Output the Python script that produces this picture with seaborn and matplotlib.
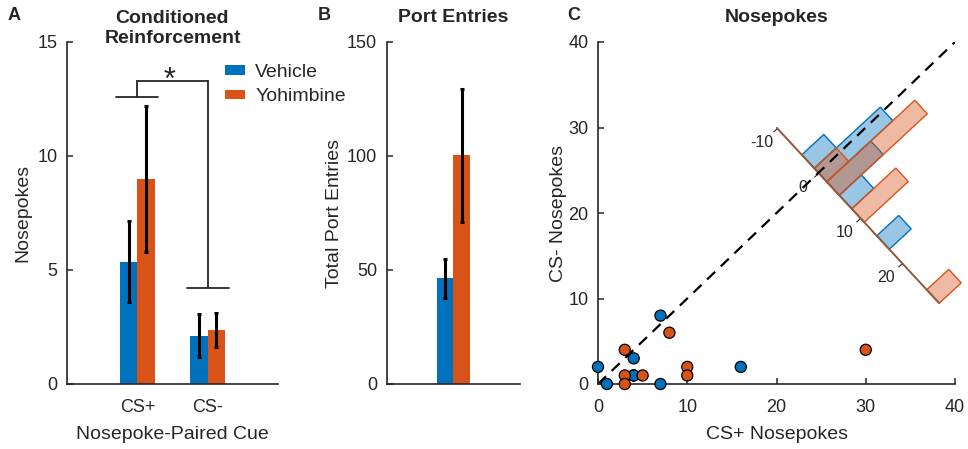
import numpy as np
import pandas as pd
import matplotlib
matplotlib.use("Agg")
import matplotlib.pyplot as plt
import seaborn as sns
from matplotlib.colors import to_rgba
from matplotlib.patches import Patch
from matplotlib.transforms import Affine2D
from mpl_toolkits.axisartist import floating_axes
from mpl_toolkits.axisartist.grid_finder import FixedLocator as GFFixedLocator

# ---------------- data ----------------
groups = ["Vehicle", "Yohimbine"]
colors = ["#0072BD", "#D95319"]

cues = ["CS+", "CS-"]
cr_vehicle = [5.36, 2.12]
cr_yohimbine = [9.0, 2.37]
cr_vehicle_sem = [1.78, 0.93]
cr_yohimbine_sem = [3.2, 0.74]

port_measure = ["Port Entries"]
port_means = [46.3, 100.3]
port_sem = [8.4, 29.3]

veh_cs_plus = [0, 1, 7, 4, 4, 4, 7, 16]
veh_cs_minus = [2, 0, 8, 3, 1, 1, 0, 2]
yoh_cs_plus = [3, 3, 3, 5, 8, 10, 10, 30]
yoh_cs_minus = [4, 1, 0, 1, 6, 2, 1, 4]

hist_edges = np.arange(-4, 30, 3)      # bins of CS+ minus CS- difference
inset_ticks = [-10, 0, 10, 20]

# ---------------- style ----------------
sns.set_style("ticks")
plt.rcParams["font.family"] = ["Liberation Sans", "DejaVu Sans"]
TXT = "#262626"

W, H = 968, 449
fig = plt.figure(figsize=(W / 100, H / 100), dpi=100)


def rect(l, t, r, b):
    return [l / W, 1 - b / H, (r - l) / W, (b - t) / H]


axA = fig.add_axes(rect(67, 42, 278, 384))
axB = fig.add_axes(rect(386.7, 42, 520, 384))
axC = fig.add_axes(rect(598, 42, 955, 384))


def style(ax):
    for s in ["top", "right"]:
        ax.spines[s].set_visible(False)
    for s in ["left", "bottom"]:
        ax.spines[s].set_color(TXT)
        ax.spines[s].set_linewidth(1.2)
    ax.tick_params(direction="in", length=4.5, width=1.1, colors=TXT,
                   labelsize=13, pad=7)
    ax.tick_params(axis="x", pad=11)


# ---------------- Panel A ----------------
dfA = pd.DataFrame({
    "cue": cues * 2,
    "group": [groups[0]] * 2 + [groups[1]] * 2,
    "value": cr_vehicle + cr_yohimbine,
    "sem": cr_vehicle_sem + cr_yohimbine_sem,
})
sns.barplot(data=dfA, x="cue", y="value", hue="group", order=cues,
            hue_order=groups, palette=colors, width=0.5, saturation=1,
            errorbar=None, legend=False, linewidth=0, ax=axA)
barsA = list(axA.patches)
axA.errorbar([p.get_x() + p.get_width() / 2 for p in barsA],
             [p.get_height() for p in barsA], yerr=dfA["sem"].values,
             fmt="none", ecolor="black", elinewidth=2.2, capsize=1.5,
             capthick=2.2, zorder=4)
style(axA)
axA.set_xlim(-1, 2)
axA.set_ylim(0, 15)
axA.set_yticks([0, 5, 10, 15])
axA.tick_params(axis="x", length=0)
axA.set_xlabel("Nosepoke-Paired Cue", fontsize=14, color=TXT, labelpad=7)
axA.set_ylabel("Nosepokes", fontsize=14, color=TXT, labelpad=4)

# significance bracket
bracket_low = [12.6, 4.2]
bracket_top = 13.3
for i, lvl in enumerate(bracket_low):
    axA.plot([i - 0.3, i + 0.3], [lvl, lvl], color=TXT, lw=1.3)
    axA.plot([i, i], [lvl, bracket_top], color=TXT, lw=1.3)
axA.plot([0, 1], [bracket_top, bracket_top], color=TXT, lw=1.3)
axA.text(0.46, 12.95, "*", ha="center", va="baseline", fontsize=22, color=TXT)

handles = [Patch(facecolor=c, edgecolor="none") for c in colors]
axA.legend(handles, groups, loc="upper left",
           bbox_to_anchor=(225 / W, 1 - 64 / H), bbox_transform=fig.transFigure,
           frameon=False, fontsize=14, handlelength=1.05, handleheight=0.35,
           handletextpad=0.5, labelspacing=0.38, borderpad=0, borderaxespad=0)

# ---------------- Panel B ----------------
dfB = pd.DataFrame({
    "measure": port_measure * 2,
    "group": groups,
    "value": port_means,
    "sem": port_sem,
})
sns.barplot(data=dfB, x="measure", y="value", hue="group", hue_order=groups,
            palette=colors, width=0.5, saturation=1, errorbar=None,
            legend=False, linewidth=0, ax=axB)
barsB = list(axB.patches)
axB.errorbar([p.get_x() + p.get_width() / 2 for p in barsB],
             [p.get_height() for p in barsB], yerr=dfB["sem"].values,
             fmt="none", ecolor="black", elinewidth=2.2, capsize=1.5,
             capthick=2.2, zorder=4)
style(axB)
axB.set_xlim(-1, 1)
axB.set_ylim(0, 150)
axB.set_yticks([0, 50, 100, 150])
axB.set_xticks([])
axB.set_xlabel("")
axB.set_ylabel("Total Port Entries", fontsize=14, color=TXT, labelpad=3)

# ---------------- Panel C ----------------
dfC = pd.DataFrame({
    "cs_plus": veh_cs_plus + yoh_cs_plus,
    "cs_minus": veh_cs_minus + yoh_cs_minus,
    "group": [groups[0]] * len(veh_cs_plus) + [groups[1]] * len(yoh_cs_plus),
})
lim = (0, 40)
axC.set_xlim(lim)
axC.set_ylim(lim)
axC.plot(lim, lim, color="black", lw=1.6, dashes=(5, 3.5), zorder=2)
sns.scatterplot(data=dfC, x="cs_plus", y="cs_minus", hue="group",
                hue_order=groups, palette=colors, s=64, edgecolor="black",
                linewidth=0.9, legend=False, ax=axC, zorder=3, clip_on=False)
style(axC)
axC.set_xticks(range(0, 41, 10))
axC.set_yticks(range(0, 41, 10))
axC.set_xlabel("CS+ Nosepokes", fontsize=14, color=TXT, labelpad=7)
axC.set_ylabel("CS- Nosepokes", fontsize=14, color=TXT, labelpad=1)
axC.set_zorder(3)
axC.patch.set_visible(False)

# ---------------- rotated inset histogram ----------------
px_per_unit, px_per_count, angle = 6.13, 30.0, -47.2
inset_origin = 24.7
t_min, t_max, c_max = -10, 29, 4.4
tr = Affine2D().scale(px_per_unit, px_per_count).rotate_deg(angle)
grid_helper = floating_axes.GridHelperCurveLinear(
    tr, extremes=(t_min, t_max, 0, c_max),
    grid_locator1=GFFixedLocator(inset_ticks),
    grid_locator2=GFFixedLocator([0]))
corners = tr.transform(np.array([[t_min, 0], [t_max, 0],
                                 [t_min, c_max], [t_max, c_max]]))
xmin, ymin = corners.min(0)
xmax, ymax = corners.max(0)
cx, cy = (xmin + xmax) / 2, (ymin + ymax) / 2
bw, bh = (xmax - xmin) * 1.02, (ymax - ymin) * 1.02
ox, oy = axC.transData.transform((inset_origin, inset_origin))
ax_in = fig.add_axes([(ox + cx - bw / 2) / W, (oy + cy - bh / 2) / H,
                      bw / W, bh / H],
                     axes_class=floating_axes.FloatingAxes,
                     grid_helper=grid_helper)
ax_in.set_zorder(2)
ax_in.patch.set_facecolor("none")
ax_in.patch.set_edgecolor("none")
for k in ["left", "right", "top"]:
    ax_in.axis[k].set_visible(False)
axb = ax_in.axis["bottom"]
axb.line.set_color("#93573a")
axb.line.set_linewidth(1.4)
axb.major_ticks.set_color(TXT)
axb.major_ticks.set_ticksize(4)
try:
    axb.major_ticks.set_tick_out(True)
except Exception:
    pass
axb.major_ticklabels.set_visible(False)
axb.label.set_visible(False)

aux = ax_in.get_aux_axes(tr)
for cp, cm, col in [(veh_cs_plus, veh_cs_minus, colors[0]),
                    (yoh_cs_plus, yoh_cs_minus, colors[1])]:
    diffs = np.array(cp) - np.array(cm)
    counts, _ = np.histogram(diffs, bins=hist_edges)
    nz = counts > 0
    aux.bar(hist_edges[:-1][nz], counts[nz], width=np.diff(hist_edges)[nz],
            align="edge", facecolor=to_rgba(col, 0.4), edgecolor=col,
            linewidth=1.0)
for t in inset_ticks:
    aux.text(t, -0.7, str(t), ha="center", va="center", fontsize=11.5,
             color=TXT)

# ---------------- titles & panel letters ----------------
fig.text(172.5 / W, 1 - 28.5 / H, "Conditioned\nReinforcement", ha="center",
         va="center", fontsize=14, fontweight="bold", linespacing=1.3)
fig.text(453.3 / W, 1 - 17 / H, "Port Entries", ha="center", va="center",
         fontsize=14, fontweight="bold")
fig.text(776.5 / W, 1 - 17 / H, "Nosepokes", ha="center", va="center",
         fontsize=14, fontweight="bold")
for lx, letter in [(8, "A"), (318, "B"), (567, "C")]:
    fig.text(lx / W, 1 - 16 / H, letter, ha="left", va="center",
             fontsize=13, fontweight="bold")

fig.savefig("out.png", dpi=100, facecolor="white")
